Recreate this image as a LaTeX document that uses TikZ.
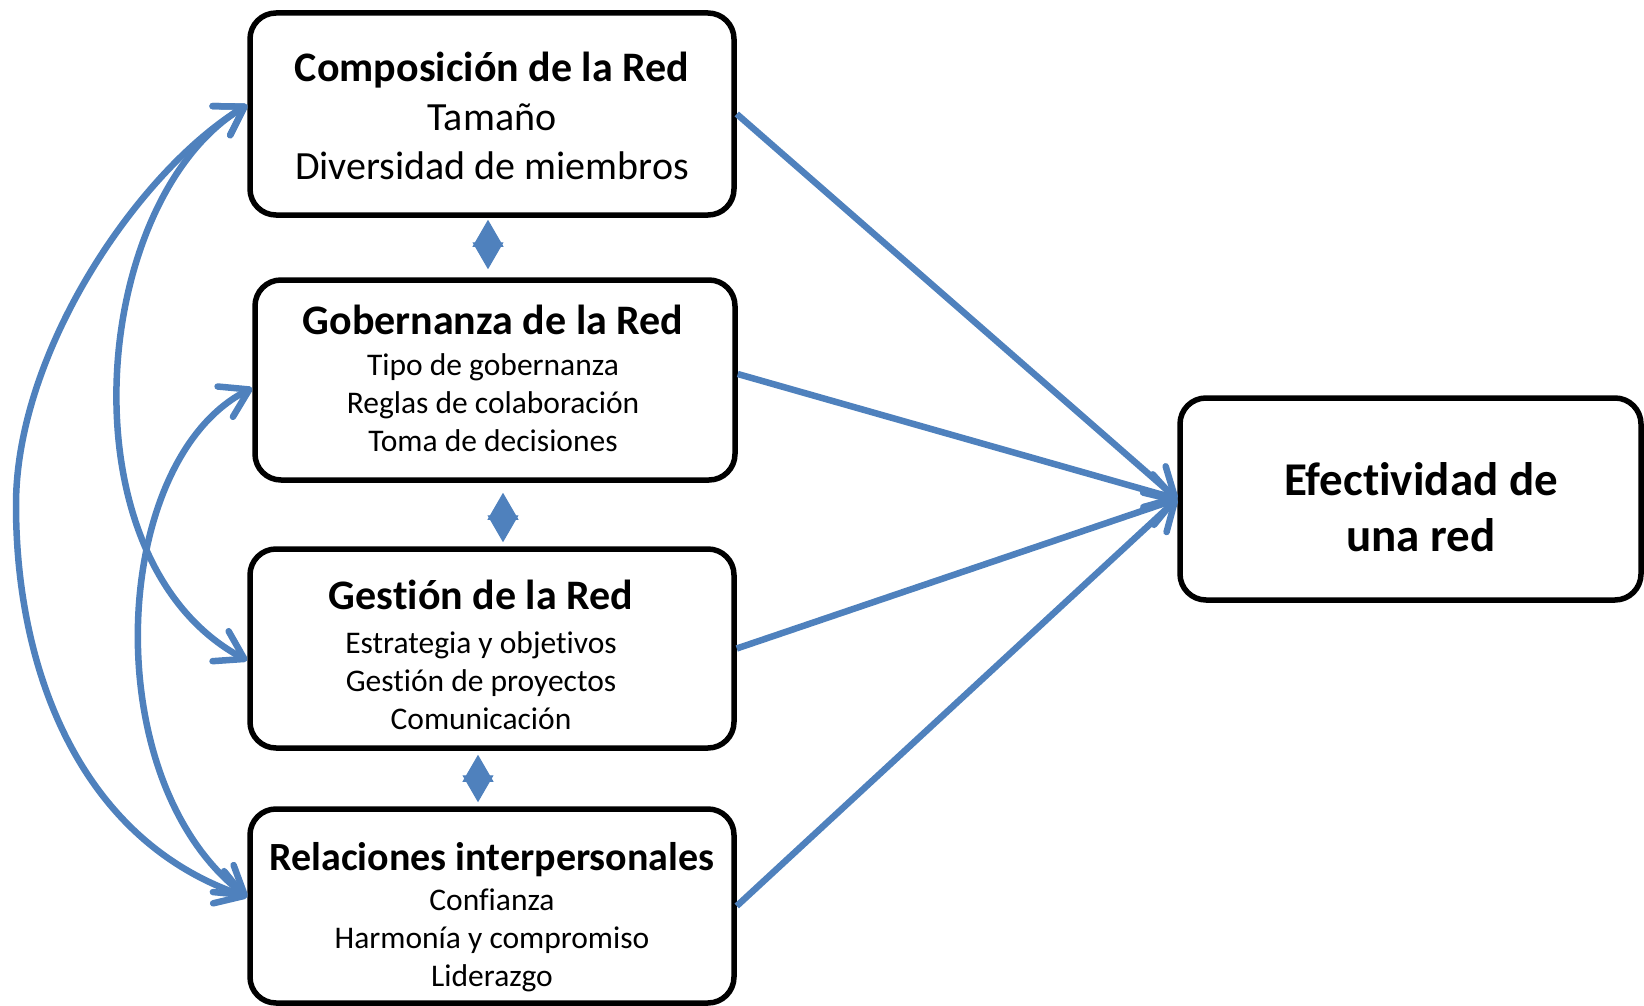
\documentclass[tikz,border=0pt]{standalone}
\usepackage{fontspec}
\setmainfont{Carlito}[Ligatures={TeX,NoCommon}]
\usetikzlibrary{arrows.meta}
\definecolor{arrowblue}{RGB}{79,129,189}
\begin{document}
\begin{tikzpicture}[x=1pt,y=-1pt,
  box/.style={draw=black, line width=5.5pt, rounded corners=26pt, fill=white, inner sep=0pt},
  txt/.style={align=center, inner sep=0pt},
  flow/.style={draw=arrowblue, line width=6.5pt, -{Straight Barb[length=27pt,width=34pt,round]}},
  link/.style={draw=arrowblue, line width=6.5pt, {Straight Barb[length=27pt,width=34pt,round]}-{Straight Barb[length=27pt,width=34pt,round]}},
  pair/.style={draw=arrowblue, line width=1pt, {Triangle[length=27pt,width=31pt]}-{Triangle[length=27pt,width=31pt]}}]
\useasboundingbox (0,0) rectangle (1644,1006);

% boxes
\node[box, minimum width=484pt, minimum height=202pt] (b1) at (492,114) {};
\node[box, minimum width=480pt, minimum height=200pt] (b2) at (495,380) {};
\node[box, minimum width=484pt, minimum height=199pt] (b3) at (492,648.5) {};
\node[box, minimum width=484pt, minimum height=194pt] (b4) at (492,906) {};
\node[box, minimum width=461pt, minimum height=202pt] (b5) at (1410.5,499) {};

% texts
\node[txt, font=\fontsize{40}{49}\selectfont] (t1) at (492,116)
  {{\bfseries\fontsize{42}{49}\selectfont Composición de la Red}\\ Tamaño\\ Diversidad de miembros};
\node[txt, font=\fontsize{31.5}{38}\selectfont] (t2) at (493,378)
  {{\bfseries\fontsize{42}{38}\selectfont Gobernanza de la Red}\\[3pt] Tipo de gobernanza\\ Reglas de colaboración\\ Toma de decisiones};
\node[txt, font=\fontsize{31.5}{38}\selectfont] (t3) at (481,655)
  {{\bfseries\fontsize{42}{38}\selectfont Gestión de la Red}\\[6pt] Estrategia y objetivos\\ Gestión de proyectos\\ Comunicación};
\node[txt, font=\fontsize{31.5}{38}\selectfont] (t4) at (492,917)
  {{\bfseries\fontsize{40}{38}\selectfont Relaciones interpersonales}\\[2pt] Confianza\\ Harmonía y compromiso\\ Liderazgo};
\node[txt, font=\bfseries\fontsize{47}{56}\selectfont] (t5) at (1421,507)
  {Efectividad de\\ una red};

% arrows to the outcome
\draw[flow] (b1.east) -- (b5.west);
\draw[flow] ([yshift=6pt]b2.east) -- (b5.west);
\draw[flow] (b3.east) -- (b5.west);
\draw[flow] (b4.east) -- (b5.west);

% short double arrows between boxes
\draw[pair, shorten <=2pt, shorten >=8pt] ([xshift=-4pt]b1.south) -- ([xshift=-7pt]b2.north);
\draw[pair, shorten <=10pt, shorten >=4pt] ([xshift=8pt]b2.south) -- ([xshift=11pt]b3.north);
\draw[pair, shorten <=4pt, shorten >=4pt] ([xshift=-14pt]b3.south) -- ([xshift=-14pt]b4.north);

% left curved links
\draw[link] ([yshift=9pt]b1.west) .. controls (140,170) and (16,350) .. (16,505)
  .. controls (16,670) and (80,840) .. ([yshift=9pt]b4.west);
\draw[link] ([yshift=9pt]b1.west) .. controls (90,200) and (60,560) .. ([yshift=-12pt]b3.west);
\draw[link] ([yshift=-8pt]b2.west) .. controls (110,460) and (95,780) .. ([yshift=9pt]b4.west);
\end{tikzpicture}
\end{document}
